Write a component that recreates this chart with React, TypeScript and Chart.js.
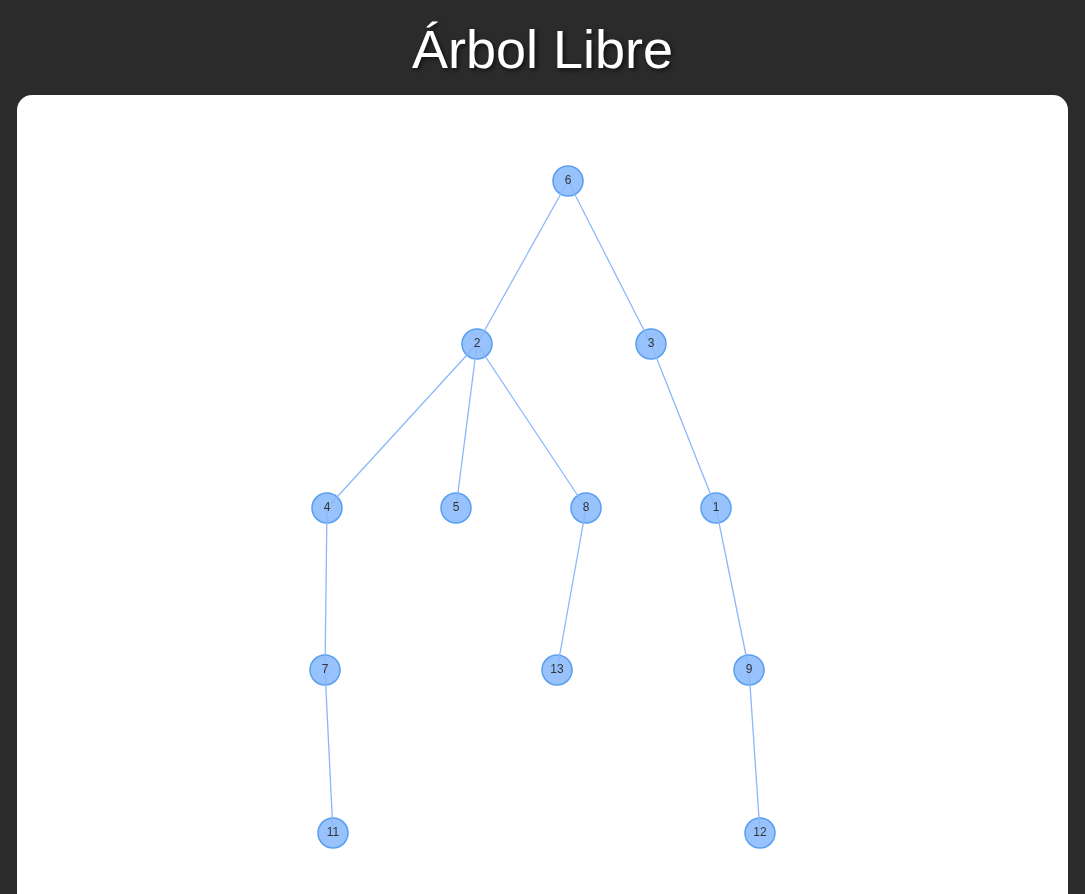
import React, { useEffect, useRef } from "react";
import { Chart, registerables } from "chart.js";

Chart.register(...registerables);

// node labels and their positions (x in px, y in px inside the page)
const nodeLabels = ["6", "2", "3", "4", "5", "8", "1", "7", "13", "9", "11", "12"];
const nodeX = [568, 477, 651, 327, 456, 586, 716, 325, 557, 749, 333, 760];
const nodeY = [181, 344, 344, 508, 508, 508, 508, 670, 670, 670, 833, 833];
const edgeFrom = ["6", "6", "2", "2", "2", "3", "4", "8", "1", "7", "9"];
const edgeTo = ["2", "3", "4", "5", "8", "1", "7", "13", "9", "11", "12"];

const CARD_LEFT = 17;
const CARD_TOP = 95;
const CARD_W = 1051;
const CARD_H = 799;

const pt = (label: string) => {
  const i = nodeLabels.indexOf(label);
  return { x: nodeX[i], y: nodeY[i] };
};

const labelPlugin = {
  id: "nodeLabels",
  afterDatasetsDraw(chart: any) {
    const ctx = chart.ctx;
    const meta = chart.getDatasetMeta(chart.data.datasets.length - 1);
    ctx.save();
    ctx.font = "12px 'Liberation Sans', Arial, sans-serif";
    ctx.fillStyle = "#343434";
    ctx.textAlign = "center";
    ctx.textBaseline = "middle";
    meta.data.forEach((el: any, i: number) => {
      ctx.fillText(nodeLabels[i], el.x, el.y);
    });
    ctx.restore();
  },
};

const App = () => {
  const canvasRef = useRef<HTMLCanvasElement | null>(null);

  useEffect(() => {
    document.body.style.margin = "0";
    document.body.style.background = "#2b2b2b";
    if (!canvasRef.current) return;
    const ctx = canvasRef.current.getContext("2d");
    if (!ctx) return;

    const edgeSets = edgeFrom.map((f, i) => ({
      type: "line" as const,
      data: [pt(f), pt(edgeTo[i])],
      borderColor: "#8ab8f8",
      borderWidth: 1.3,
      pointRadius: 0,
      showLine: true,
    }));

    const chart = new Chart(ctx, {
      type: "scatter",
      data: {
        datasets: [
          ...edgeSets,
          {
            data: nodeLabels.map((l) => pt(l)),
            backgroundColor: "#97c2fc",
            borderColor: "#5a9ef0",
            borderWidth: 1.5,
            pointRadius: 15,
            pointHoverRadius: 15,
          },
        ] as any,
      },
      options: {
        animation: false,
        responsive: false,
        maintainAspectRatio: false,
        layout: { padding: 0, autoPadding: false },
        plugins: { legend: { display: false }, tooltip: { enabled: false } },
        scales: {
          x: { type: "linear", display: false, min: CARD_LEFT, max: CARD_LEFT + CARD_W },
          y: { type: "linear", display: false, reverse: true, min: CARD_TOP, max: CARD_TOP + CARD_H },
        },
      },
      plugins: [labelPlugin],
    });

    return () => chart.destroy();
  }, []);

  return (
    <div style={{ width: 1085, height: 894, position: "relative", overflow: "hidden", fontFamily: "'Liberation Sans', Arial, sans-serif" }}>
      <div
        style={{
          position: "absolute",
          top: 16,
          width: "100%",
          textAlign: "center",
          color: "#fff",
          fontSize: 54,
          lineHeight: "66px",
          textShadow: "2px 2px 4px rgba(0,0,0,0.6)",
        }}
      >
        Árbol Libre
      </div>
      <div
        style={{
          position: "absolute",
          left: CARD_LEFT,
          top: CARD_TOP,
          width: CARD_W,
          height: CARD_H + 20,
          background: "#fff",
          borderRadius: 15,
          overflow: "hidden",
        }}
      >
        <canvas ref={canvasRef} width={CARD_W} height={CARD_H} style={{ display: "block", width: CARD_W, height: CARD_H }} />
      </div>
    </div>
  );
};

export default App;
